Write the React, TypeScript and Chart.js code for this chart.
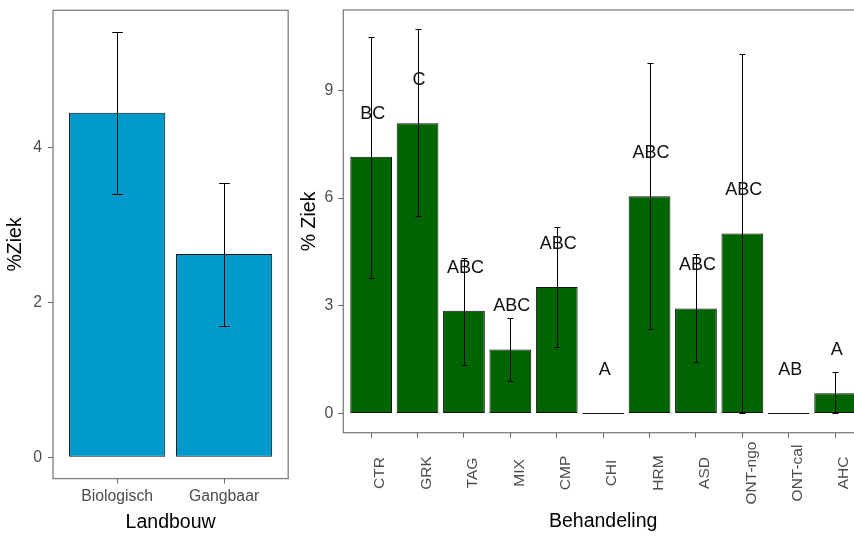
import React, { useEffect, useRef } from "react";
import { Chart, registerables } from "chart.js";
Chart.register(...registerables);

const FONT = "'Liberation Sans', Arial, sans-serif";

// Left panel: Landbouw
const farmCategories = ["Biologisch", "Gangbaar"];
const farmValues = [4.455, 2.63];
const farmErrLow = [3.4, 1.7];
const farmErrHigh = [5.505, 3.55];
const farmTicks = [0, 2, 4];

// Right panel: Behandeling
const treatCategories = ["CTR", "GRK", "TAG", "MIX", "CMP", "CHI", "HRM", "ASD", "ONT-ngo", "ONT-cal", "AHC"];
const treatValues = [7.15, 8.08, 2.86, 1.78, 3.52, 0, 6.05, 2.92, 5.01, 0, 0.56];
const treatErrLow = [3.77, 5.5, 1.36, 0.9, 1.85, 0, 2.34, 1.43, 0, 0, 0];
const treatErrHigh = [10.48, 10.7, 4.33, 2.65, 5.19, 0, 9.77, 4.43, 10.0, 0, 1.16];
const treatLetters = ["BC", "C", "ABC", "ABC", "ABC", "A", "ABC", "ABC", "ABC", "AB", "A"];
const treatLetterY = [8.33, 9.28, 4.06, 2.99, 4.71, 1.21, 7.26, 4.13, 6.22, 1.21, 1.76];
const treatTicks = [0, 3, 6, 9];

function panelPlugin(opts: {
  errLow: number[];
  errHigh: number[];
  capFrac: number;
  letters?: string[];
  letterY?: number[];
  rotatedLabels?: string[];
  labelY?: number;
}) {
  return {
    id: "panelExtras",
    afterDatasetsDraw(chart: any) {
      const ctx = chart.ctx;
      const xs = chart.scales.x;
      const ys = chart.scales.y;
      ctx.save();
      ctx.strokeStyle = "#000";
      ctx.lineWidth = 1;
      opts.errLow.forEach((lo, i) => {
        const hi = opts.errHigh[i];
        if (hi === lo) return;
        const x = Math.round(xs.getPixelForValue(i)) + 0.5;
        const hw = xs.getPixelForValue(i + opts.capFrac / 2) - xs.getPixelForValue(i);
        const y1 = Math.round(ys.getPixelForValue(lo)) + 0.5;
        const y2 = Math.round(ys.getPixelForValue(hi)) + 0.5;
        ctx.beginPath();
        ctx.moveTo(x, y1);
        ctx.lineTo(x, y2);
        ctx.moveTo(x - hw, y1);
        ctx.lineTo(x + hw, y1);
        ctx.moveTo(x - hw, y2);
        ctx.lineTo(x + hw, y2);
        ctx.stroke();
      });
      if (opts.letters && opts.letterY) {
        ctx.fillStyle = "#111";
        ctx.font = `18px ${FONT}`;
        ctx.textAlign = "center";
        ctx.textBaseline = "middle";
        opts.letters.forEach((t, i) => {
          ctx.fillText(t, xs.getPixelForValue(i) + 1.5, ys.getPixelForValue(opts.letterY![i]));
        });
      }
      ctx.restore();
    },
    afterDraw(chart: any) {
      const ctx = chart.ctx;
      const a = chart.chartArea;
      ctx.save();
      ctx.strokeStyle = "#7f7f7f";
      ctx.lineWidth = 1.3;
      ctx.strokeRect(a.left, a.top, a.right - a.left, a.bottom - a.top);
      if (opts.rotatedLabels) {
        const xs = chart.scales.x;
        ctx.fillStyle = "#4d4d4d";
        ctx.font = `15.5px ${FONT}`;
        ctx.textAlign = "center";
        ctx.textBaseline = "middle";
        opts.rotatedLabels.forEach((t, i) => {
          ctx.save();
          ctx.translate(xs.getPixelForValue(i) + 9, opts.labelY!);
          ctx.rotate(-Math.PI / 2);
          ctx.fillText(t, 0, 0);
          ctx.restore();
        });
      }
      ctx.restore();
    },
  };
}

function axisCommon() {
  return {
    offset: false,
    grid: { offset: false, drawOnChartArea: false, drawTicks: true, tickLength: 5, color: "#666", lineWidth: 1 },
    border: { display: false },
  };
}

function fixSize(dim: "width" | "height", size: number) {
  return (s: any) => {
    s[dim] = size;
    s.paddingTop = 0;
    s.paddingBottom = 0;
    s.paddingLeft = 0;
    s.paddingRight = 0;
  };
}

export default function App() {
  const leftRef = useRef<HTMLCanvasElement>(null);
  const rightRef = useRef<HTMLCanvasElement>(null);

  useEffect(() => {
    const left = new Chart(leftRef.current!, {
      type: "bar",
      data: {
        datasets: [
          {
            data: farmValues.map((v, i) => ({ x: i, y: v })),
            backgroundColor: "#0099CC",
            borderColor: "#111",
            borderWidth: 1,
            borderSkipped: false,
            barPercentage: 0.9,
            categoryPercentage: 1,
          },
        ],
      },
      options: {
        responsive: false,
        animation: false,
        layout: { padding: { left: 0, right: 1.8, top: 10.3, bottom: 0 } },
        plugins: { legend: { display: false }, tooltip: { enabled: false } },
        scales: {
          x: {
            type: "linear",
            min: -0.6,
            max: 1.6,
            ...axisCommon(),
            afterBuildTicks: (s: any) => {
              s.ticks = farmCategories.map((_, i) => ({ value: i }));
            },
            afterFit: fixSize("height", 57.4),
            ticks: {
              callback: (v: any) => farmCategories[v],
              font: { family: FONT, size: 15.8 },
              color: "#4d4d4d",
              padding: 4,
              maxRotation: 0,
              autoSkip: false,
            },
            title: {
              display: true,
              text: "Landbouw",
              font: { family: FONT, size: 19.5 },
              color: "#000",
              padding: { top: 0, bottom: 2 },
            },
          },
          y: {
            type: "linear",
            min: -0.275,
            max: 5.78,
            ...axisCommon(),
            afterBuildTicks: (s: any) => {
              s.ticks = farmTicks.map((v) => ({ value: v }));
            },
            afterFit: fixSize("width", 53),
            ticks: {
              callback: (v: any) => String(v),
              font: { family: FONT, size: 15.8 },
              color: "#4d4d4d",
              padding: 6,
            },
            title: {
              display: true,
              text: "%Ziek",
              font: { family: FONT, size: 19.5 },
              color: "#000",
              padding: { top: 4, bottom: 0 },
            },
          },
        },
      } as any,
      plugins: [panelPlugin({ errLow: farmErrLow, errHigh: farmErrHigh, capFrac: 0.1 })],
    });

    const right = new Chart(rightRef.current!, {
      type: "bar",
      data: {
        datasets: [
          {
            data: treatValues.map((v, i) => ({ x: i, y: v })),
            backgroundColor: "#006400",
            borderColor: "#111",
            borderWidth: 1,
            borderSkipped: false,
            minBarLength: 1,
            barPercentage: 0.9,
            categoryPercentage: 1,
          },
        ],
      },
      options: {
        responsive: false,
        animation: false,
        layout: { padding: { left: 0, right: 27, top: 10, bottom: 0 } },
        plugins: { legend: { display: false }, tooltip: { enabled: false } },
        scales: {
          x: {
            type: "linear",
            min: -0.6,
            max: 10.6,
            ...axisCommon(),
            afterBuildTicks: (s: any) => {
              s.ticks = treatCategories.map((_, i) => ({ value: i }));
            },
            afterFit: fixSize("height", 103.3),
            ticks: { display: false },
            title: {
              display: true,
              text: "Behandeling",
              font: { family: FONT, size: 19.5 },
              color: "#000",
              padding: { top: 0, bottom: 3 },
            },
          },
          y: {
            type: "linear",
            min: -0.535,
            max: 11.235,
            ...axisCommon(),
            afterBuildTicks: (s: any) => {
              s.ticks = treatTicks.map((v) => ({ value: v }));
            },
            afterFit: fixSize("width", 53.3),
            ticks: {
              callback: (v: any) => String(v),
              font: { family: FONT, size: 15.8 },
              color: "#4d4d4d",
              padding: 5,
            },
            title: {
              display: true,
              text: "% Ziek",
              font: { family: FONT, size: 19.5 },
              color: "#000",
              padding: { top: 8, bottom: 0 },
            },
          },
        },
      } as any,
      plugins: [
        panelPlugin({
          errLow: treatErrLow,
          errHigh: treatErrHigh,
          capFrac: 0.13,
          letters: treatLetters,
          letterY: treatLetterY,
          rotatedLabels: treatCategories,
          labelY: 473,
        }),
      ],
    });

    return () => {
      left.destroy();
      right.destroy();
    };
  }, []);

  return (
    <div
      style={{
        position: "fixed",
        left: 0,
        top: 0,
        width: 854,
        height: 536,
        overflow: "hidden",
        background: "#fff",
      }}
    >
      <canvas
        ref={leftRef}
        width={290}
        height={536}
        style={{ position: "absolute", left: 0, top: 0, width: 290, height: 536 }}
      />
      <canvas
        ref={rightRef}
        width={600}
        height={536}
        style={{ position: "absolute", left: 290, top: 0, width: 600, height: 536 }}
      />
    </div>
  );
}
